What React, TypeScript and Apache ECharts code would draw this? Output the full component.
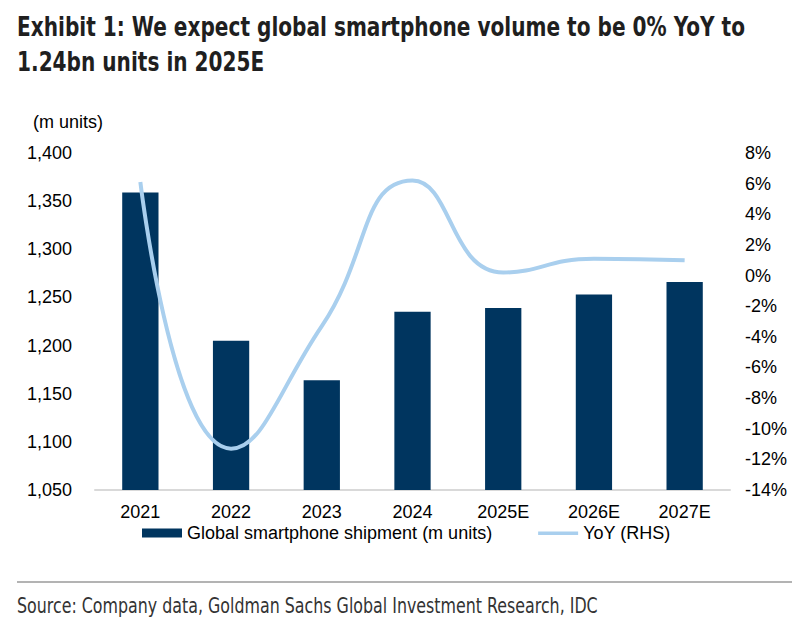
import React, { useEffect, useRef } from "react";
import * as echarts from "echarts";

const categories = ["2021", "2022", "2023", "2024", "2025E", "2026E", "2027E"];
const shipments = [1359, 1205, 1164, 1235, 1239, 1253, 1266];
const yoy = [6.1, -11.3, -3.3, 6.2, 0.2, 1.1, 1.0];
const leftTicks = { min: 1050, max: 1400, interval: 50 };
const rightTicks = { min: -14, max: 8, interval: 2 };

const TITLE_1 = "Exhibit 1: We expect global smartphone volume to be 0% YoY to";
const TITLE_2 = "1.24bn units in 2025E";
const SOURCE = "Source: Company data, Goldman Sachs Global Investment Research, IDC";
const BAR_NAME = "Global smartphone shipment (m units)";
const LINE_NAME = "YoY (RHS)";

const NARROW = "'Liberation Sans Narrow', 'Arial Narrow', 'DejaVu Sans Condensed', sans-serif";
const SANS = "'Liberation Sans', Arial, sans-serif";

export default function App() {
  const ref = useRef<HTMLDivElement>(null);
  useEffect(() => {
    if (!ref.current) return;
    const chart = echarts.init(ref.current, null, { renderer: "svg" });
    const titleStyle = {
      fontFamily: NARROW,
      fontWeight: "bold",
      fontSize: 26,
      fill: "#1f1f1f",
      verticalAlign: "top",
    };
    chart.setOption({
      animation: false,
      backgroundColor: "#ffffff",
      grid: { left: 95, right: 79, top: 153, bottom: 143, containLabel: false },
      legend: {
        left: 142,
        top: 524,
        padding: 0,
        itemWidth: 40,
        itemHeight: 9,
        itemGap: 46,
        textStyle: { fontFamily: SANS, fontSize: 18, color: "#000" },
        data: [
          { name: BAR_NAME, icon: "rect" },
          {
            name: LINE_NAME,
            icon: "path://M0,0 L40,0 L40,0.01 Z M0,3 L40,3 L40,6.5 L0,6.5 Z M0,8.99 L40,9 L0,9 Z",
            itemStyle: { borderWidth: 0, color: "#a9cfee" },
          },
        ],
      },
      xAxis: {
        type: "category",
        data: categories,
        axisLine: { onZero: false, lineStyle: { color: "#d9d9d9", width: 2 } },
        axisTick: { show: false },
        axisLabel: { fontFamily: SANS, fontSize: 18, color: "#000", margin: 13 },
      },
      yAxis: [
        {
          type: "value",
          ...leftTicks,
          name: "(m units)",
          nameLocation: "end",
          nameGap: 22,
          nameTextStyle: { fontFamily: SANS, fontSize: 18, color: "#000", align: "left", padding: [0, 0, 0, -62] },
          splitLine: { show: false },
          axisLine: { show: false },
          axisTick: { show: false },
          axisLabel: {
            fontFamily: SANS,
            fontSize: 18,
            color: "#000",
            margin: 23,
            formatter: (v: number) => v.toLocaleString("en-US"),
          },
        },
        {
          type: "value",
          ...rightTicks,
          position: "right",
          splitLine: { show: false },
          axisLine: { show: false },
          axisTick: { show: false },
          axisLabel: {
            fontFamily: SANS,
            fontSize: 18,
            color: "#000",
            margin: 15,
            formatter: (v: number) => `${v}%`,
          },
        },
      ],
      series: [
        {
          name: BAR_NAME,
          type: "bar",
          data: shipments,
          barWidth: "40%",
          itemStyle: { color: "#00355f" },
        },
        {
          name: LINE_NAME,
          type: "line",
          yAxisIndex: 1,
          data: yoy,
          smooth: 0.5,
          symbol: "none",
          lineStyle: { color: "#a9cfee", width: 4 },
          itemStyle: { color: "#a9cfee" },
        },
      ],
      graphic: [
        {
          type: "text",
          x: 17,
          y: 14,
          scaleX: 0.86,
          style: { ...titleStyle, text: TITLE_1 },
        },
        {
          type: "text",
          x: 17,
          y: 49,
          scaleX: 0.86,
          style: { ...titleStyle, text: TITLE_2 },
        },
        {
          type: "line",
          shape: { x1: 17, y1: 582, x2: 792, y2: 582 },
          style: { stroke: "#b3b3b3", lineWidth: 2 },
        },
        {
          type: "text",
          x: 17,
          y: 595,
          scaleX: 0.84,
          style: {
            text: SOURCE,
            fontFamily: NARROW,
            fontSize: 21,
            fill: "#333333",
            verticalAlign: "top",
          },
        },
      ],
    });
    return () => chart.dispose();
  }, []);
  return <div ref={ref} style={{ position: "absolute", left: 0, top: 0, width: 809, height: 633 }} />;
}
